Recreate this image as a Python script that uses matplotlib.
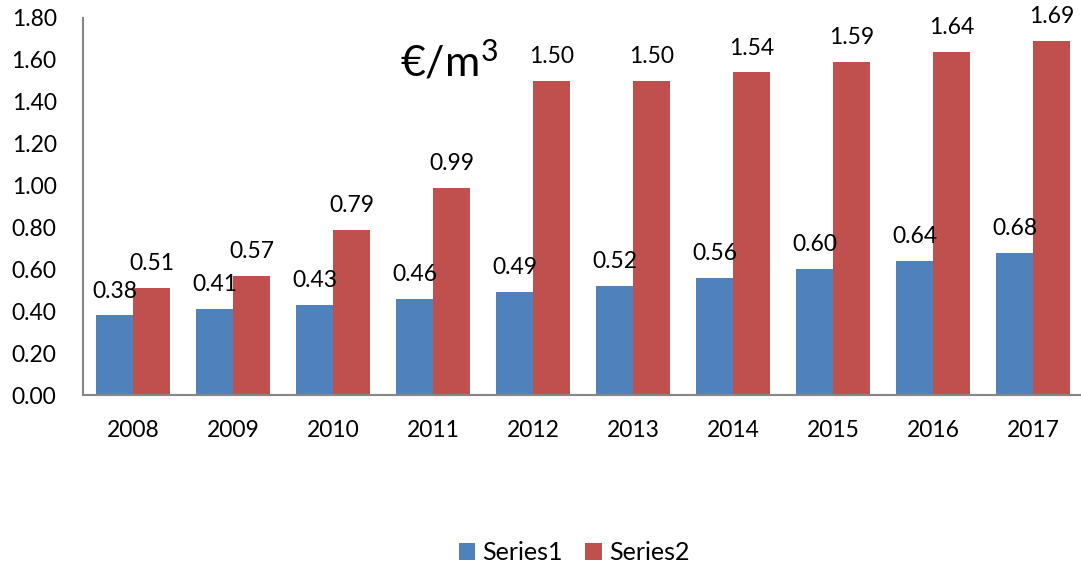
import matplotlib
matplotlib.use("Agg")
import matplotlib.pyplot as plt
import numpy as np

years = ["2008", "2009", "2010", "2011", "2012", "2013", "2014", "2015", "2016", "2017"]
series1 = [0.38, 0.41, 0.43, 0.46, 0.49, 0.52, 0.56, 0.60, 0.64, 0.68]
series2 = [0.51, 0.57, 0.79, 0.99, 1.50, 1.50, 1.54, 1.59, 1.64, 1.69]
yticks = [0.0, 0.2, 0.4, 0.6, 0.8, 1.0, 1.2, 1.4, 1.6, 1.8]

plt.rcParams['font.family'] = ['Lato', 'DejaVu Sans']
plt.rcParams['mathtext.fontset'] = 'custom'
plt.rcParams['mathtext.rm'] = 'Lato'
plt.rcParams['mathtext.it'] = 'Lato'

fig = plt.figure(figsize=(10.81, 5.67), dpi=100)
ax = fig.add_axes([83/1081, 1 - 395/567, (1083 - 83)/1081, (395 - 18)/567])

x = np.arange(len(years))
w = 0.37
c1 = "#4f81bd"
c2 = "#c0504d"
b1 = ax.bar(x - w/2, series1, w, color=c1, label="Series1")
b2 = ax.bar(x + w/2, series2, w, color=c2, label="Series2")

for xi, v in zip(x, series1):
    ax.annotate(f"{v:.2f}", (xi - w/2, v), xytext=(0, 10), textcoords="offset points",
                ha="center", va="bottom", fontsize=16.5, color="black")
for xi, v in zip(x, series2):
    ax.annotate(f"{v:.2f}", (xi + w/2, v), xytext=(0, 10), textcoords="offset points",
                ha="center", va="bottom", fontsize=16.5, color="black")

ax.set_xlim(-0.5, len(years) - 0.5)
ax.set_ylim(0, 1.8)
ax.set_yticks(yticks)
ax.set_yticklabels([f"{t:.2f}" for t in yticks], fontsize=16.5)
ax.set_xticks(x)
ax.set_xticklabels(years, fontsize=16.5)
ax.tick_params(axis="both", length=0)
ax.tick_params(axis="y", pad=19)
ax.tick_params(axis="x", pad=18)
for s in ["top", "right"]:
    ax.spines[s].set_visible(False)
for s in ["left", "bottom"]:
    ax.spines[s].set_color("#868686")
    ax.spines[s].set_linewidth(1.5)

ax.text(0.317, 0.885, "€/m$^3$", transform=ax.transAxes, fontsize=31, ha="left", va="center")

fig.legend(handles=[b1, b2], loc="center", bbox_to_anchor=(574/1081, 1 - 553/567), ncol=2,
           frameon=False, fontsize=18, handlelength=0.65, handleheight=0.65, columnspacing=0.9,
           handletextpad=0.3)

fig.savefig("out.png", dpi=100)
